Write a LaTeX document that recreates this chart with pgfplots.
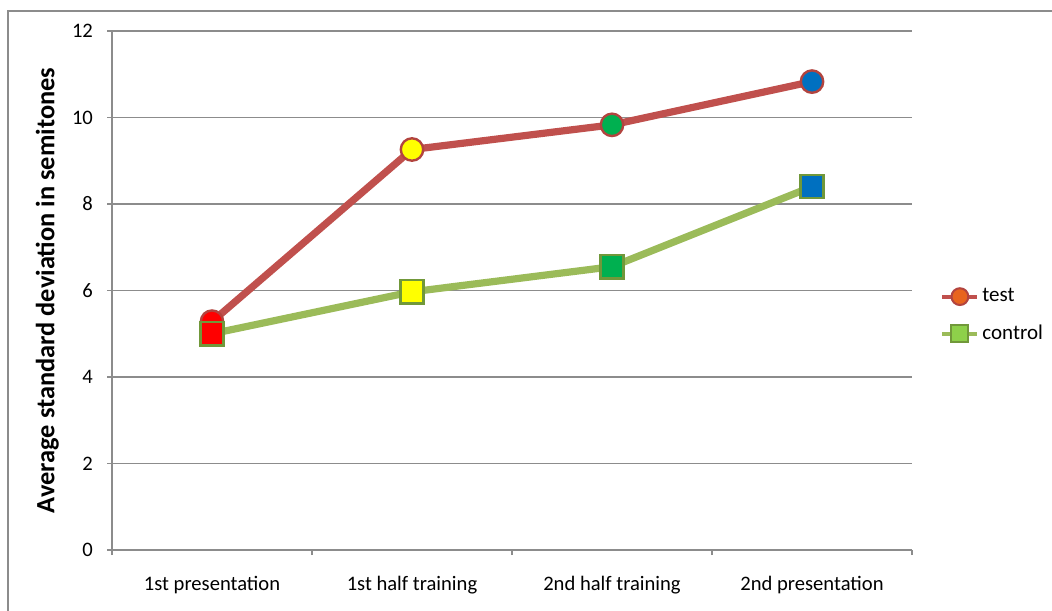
\documentclass[border=0pt]{standalone}
\usepackage{pgfplots}
\pgfplotsset{compat=1.18}
\usepackage{fontspec}
\setmainfont{Carlito}

\definecolor{testred}{HTML}{C0504D}
\definecolor{testedge}{HTML}{B2443F}
\definecolor{ctrlgreen}{HTML}{9BBB59}
\definecolor{ctrledge}{HTML}{71983A}
\definecolor{gridgray}{HTML}{8C8C8C}
\definecolor{mred}{HTML}{FF0000}
\definecolor{myellow}{HTML}{FFFF00}
\definecolor{mgreen}{HTML}{00B050}
\definecolor{mblue}{HTML}{0070C0}
\definecolor{legorange}{HTML}{E8641E}
\definecolor{leggreen}{HTML}{8ED04A}

\begin{document}
\begin{tikzpicture}
% page: 526pt x 305pt
\useasboundingbox (0pt,0pt) rectangle (526pt,305pt);
% outer chart frame (left and top edges fall inside the page)
\draw[gridgray, line width=0.6pt] (4pt,-10pt) -- (4pt,299.5pt) -- (540pt,299.5pt);

\begin{axis}[
  at={(56pt,30pt)}, anchor=south west,
  scale only axis, width=400pt, height=259.5pt,
  xmin=0.5, xmax=4.5, ymin=0, ymax=12,
  axis x line*=bottom, axis y line*=left,
  axis line style={gridgray, line width=0.75pt},
  xtick={1,2,3,4},
  xticklabels={1st presentation,1st half training,2nd half training,2nd presentation},
  minor xtick={0.5,1.5,2.5,3.5,4.5},
  ytick={0,2,...,12},
  ymajorgrids, grid style={gridgray, line width=0.75pt},
  major x tick style={draw=none},
  minor x tick style={gridgray, line width=0.75pt},
  major y tick style={gridgray, line width=0.75pt},
  tick align=outside,
  major tick length=2.5pt, minor tick length=2.5pt,
  /pgf/number format/assume math mode=true,
  tick label style={font=\fontsize{10.3}{12}\selectfont, text=black},
  xticklabel style={yshift=-7pt},
  yticklabel style={xshift=-3.5pt},
  ylabel={Average standard deviation in semitones},
  ylabel style={font=\bfseries\fontsize{13.2}{15}\selectfont, at={(axis description cs:-0.081,0.5)}, anchor=center},
  legend style={draw=none, fill=none, at={(axis description cs:1.035,0.452)}, anchor=west,
    font=\fontsize{10.5}{12}\selectfont, row sep=7pt, inner sep=0pt,
    nodes={inner sep=1.5pt}},
  legend cell align=left,
  clip=false,
]
% test series
\addplot[testred, line width=3.6pt, mark=none,
  legend image code/.code={
    \draw[testred, line width=2pt] (0pt,0pt) -- (17.5pt,0pt);
    \draw[fill=legorange, draw=testedge, line width=1pt] (8.75pt,0pt) circle (4.2pt);
  }] coordinates {(1,5.28) (2,9.26) (3,9.83) (4,10.83)};
\addlegendentry{test}
\addplot[only marks, mark=*, mark size=5.6pt, mark options={draw=testedge, fill=mred, line width=1.2pt}, forget plot] coordinates {(1,5.28)};
\addplot[only marks, mark=*, mark size=5.6pt, mark options={draw=testedge, fill=myellow, line width=1.2pt}, forget plot] coordinates {(2,9.26)};
\addplot[only marks, mark=*, mark size=5.6pt, mark options={draw=testedge, fill=mgreen, line width=1.2pt}, forget plot] coordinates {(3,9.83)};
\addplot[only marks, mark=*, mark size=5.6pt, mark options={draw=testedge, fill=mblue, line width=1.2pt}, forget plot] coordinates {(4,10.83)};

% control series
\addplot[ctrlgreen, line width=3.6pt, mark=none,
  legend image code/.code={
    \draw[ctrlgreen, line width=2pt] (0pt,0pt) -- (17.5pt,0pt);
    \draw[fill=leggreen, draw=ctrledge, line width=1pt] (4.5pt,-4.25pt) rectangle (13pt,4.25pt);
  }] coordinates {(1,5.00) (2,5.97) (3,6.55) (4,8.40)};
\addlegendentry{control}
\addplot[only marks, mark=square*, mark size=5.8pt, mark options={draw=ctrledge, fill=mred, line width=1.2pt}, forget plot] coordinates {(1,5.00)};
\addplot[only marks, mark=square*, mark size=5.8pt, mark options={draw=ctrledge, fill=myellow, line width=1.2pt}, forget plot] coordinates {(2,5.97)};
\addplot[only marks, mark=square*, mark size=5.8pt, mark options={draw=ctrledge, fill=mgreen, line width=1.2pt}, forget plot] coordinates {(3,6.55)};
\addplot[only marks, mark=square*, mark size=5.8pt, mark options={draw=ctrledge, fill=mblue, line width=1.2pt}, forget plot] coordinates {(4,8.40)};
\end{axis}
\end{tikzpicture}
\end{document}
